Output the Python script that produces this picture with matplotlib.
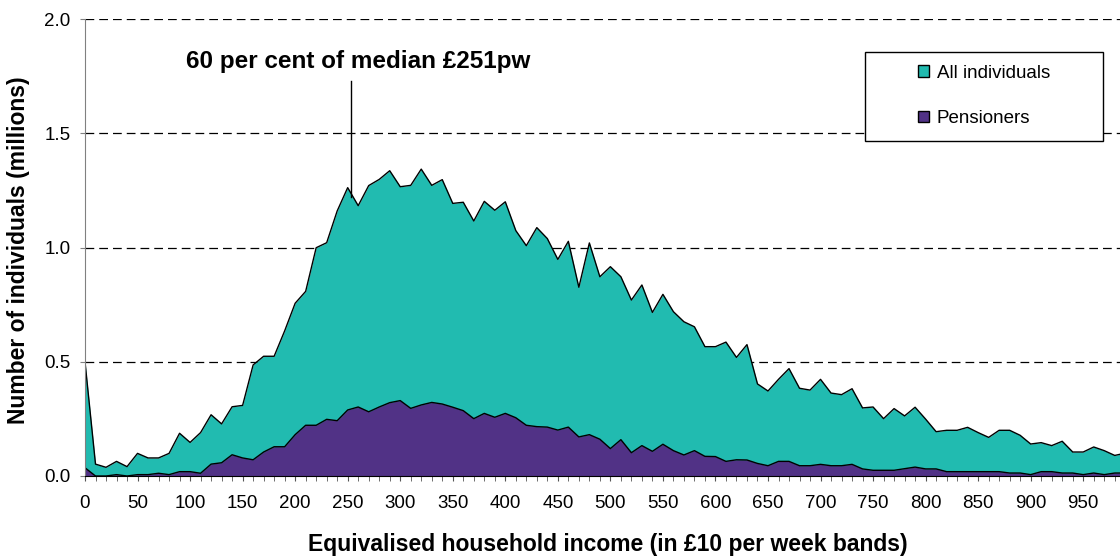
import matplotlib.pyplot as plt
from matplotlib.patches import Patch, Rectangle

plt.rcParams['font.family'] = ['Liberation Sans', 'DejaVu Sans']

# income bands, in £ per week (band start)
bands = list(range(0, 1000, 10))

all_individuals = [
    0.50, 0.052, 0.038, 0.064, 0.041, 0.099, 0.079, 0.079, 0.099, 0.187,
    0.147, 0.190, 0.268, 0.228, 0.303, 0.309, 0.486, 0.524, 0.524, 0.635,
    0.756, 0.808, 0.999, 1.021, 1.160, 1.262, 1.183, 1.271, 1.298, 1.336,
    1.266, 1.272, 1.343, 1.272, 1.297, 1.193, 1.198, 1.116, 1.202, 1.163,
    1.200, 1.074, 1.008, 1.087, 1.039, 0.948, 1.027, 0.826, 1.020, 0.872,
    0.916, 0.872, 0.770, 0.836, 0.716, 0.795, 0.719, 0.675, 0.653, 0.566,
    0.566, 0.586, 0.519, 0.575, 0.403, 0.372, 0.423, 0.470, 0.384, 0.376,
    0.423, 0.363, 0.356, 0.382, 0.298, 0.302, 0.251, 0.295, 0.263, 0.301,
    0.249, 0.194, 0.200, 0.200, 0.213, 0.190, 0.169, 0.200, 0.200, 0.178,
    0.140, 0.146, 0.133, 0.152, 0.105, 0.105, 0.127, 0.111, 0.090, 0.100,
]

pensioners = [
    0.036, 0.000, 0.000, 0.006, 0.000, 0.006, 0.006, 0.012, 0.006, 0.019,
    0.019, 0.012, 0.052, 0.058, 0.093, 0.079, 0.071, 0.105, 0.128, 0.128,
    0.181, 0.222, 0.222, 0.248, 0.242, 0.289, 0.302, 0.281, 0.302, 0.321,
    0.330, 0.296, 0.311, 0.322, 0.315, 0.301, 0.286, 0.251, 0.274, 0.257,
    0.274, 0.255, 0.222, 0.216, 0.214, 0.201, 0.214, 0.171, 0.181, 0.161,
    0.120, 0.159, 0.102, 0.133, 0.108, 0.139, 0.111, 0.092, 0.111, 0.086,
    0.085, 0.064, 0.071, 0.070, 0.055, 0.045, 0.064, 0.064, 0.045, 0.045,
    0.051, 0.045, 0.045, 0.051, 0.031, 0.025, 0.025, 0.025, 0.032, 0.039,
    0.031, 0.031, 0.019, 0.019, 0.019, 0.019, 0.019, 0.019, 0.013, 0.013,
    0.006, 0.019, 0.019, 0.013, 0.013, 0.006, 0.013, 0.006, 0.013, 0.013,
]

median_line = 253
teal = '#21BBB0'
purple = '#513286'

fig = plt.figure(figsize=(11.2, 5.56), dpi=100)
ax = fig.add_axes([85/1120, 80/556, 1035/1120, 457/556])

ax.fill_between(bands, all_individuals, 0, color=teal, lw=0)
ax.plot(bands, all_individuals, color='black', lw=1.0)
ax.fill_between(bands, pensioners, 0, color=purple, lw=0)
ax.plot(bands, pensioners, color='black', lw=1.0)

ax.set_xlim(0, 985)
ax.set_ylim(0, 2.0)
ax.set_yticks([0, 0.5, 1.0, 1.5, 2.0])
ax.set_yticklabels(['0.0', '0.5', '1.0', '1.5', '2.0'])
ax.set_xticks(range(0, 1000, 50))
ax.set_xticks(range(0, 990, 10), minor=True)
ax.tick_params(axis='x', which='both', length=3.6, color='#555555', labelsize=13.5, pad=10)
ax.tick_params(axis='y', length=3.6, color='#808080', labelsize=13.5, pad=7)
ax.grid(axis='y', color='black', linestyle=(0, (7, 4)), lw=0.9)
ax.set_axisbelow(True)
for s in ['top', 'right']:
    ax.spines[s].set_visible(False)
ax.spines['left'].set_color('#808080')
ax.spines['bottom'].set_color('black')

ax.set_xlabel('Equivalised household income (in £10 per week bands)',
              fontsize=16.5, fontweight='bold')
ax.set_ylabel('Number of individuals (millions)', fontsize=16.5, fontweight='bold')
ax.xaxis.set_label_coords(0.505, -0.125)
ax.yaxis.set_label_coords(-0.053, 0.495)

ax.plot([median_line, median_line], [1.22, 1.73], color='black', lw=1.0)
ax.text(260, 1.786, '60 per cent of median £251pw', fontsize=17.5,
        fontweight='bold', ha='center', va='baseline')

# legend box
ax.add_patch(Rectangle((780/1035, 335/457), 238/1035, 89/457, transform=ax.transAxes,
                       facecolor='white', edgecolor='black', lw=1.0,
                       clip_on=False, zorder=4))
handles = [Patch(facecolor=teal, edgecolor='black', label='All individuals'),
           Patch(facecolor=purple, edgecolor='black', label='Pensioners')]
leg = ax.legend(handles=handles, loc='upper left',
                bbox_to_anchor=(833/1035, 411/457),
                fontsize=13.5, frameon=False,
                handlelength=0.6, handleheight=0.6, handletextpad=0.4,
                labelspacing=1.5, borderpad=0, borderaxespad=0)
leg.set_zorder(5)

fig.savefig('out.png', dpi=100)
